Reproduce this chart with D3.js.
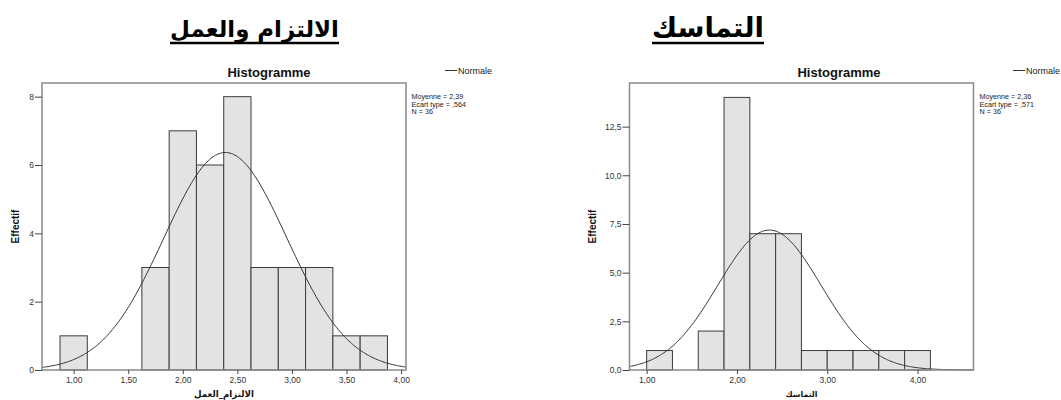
<!DOCTYPE html>
<html>
<head>
<meta charset="utf-8">
<script src="https://cdn.jsdelivr.net/npm/d3@7"></script>
<style>
  html, body { margin: 0; padding: 0; background: #fff; }
  svg { display: block; }
</style>
</head>
<body>
<svg id="chart" width="1061" height="400"></svg>
<script>
// ---------- DATA ----------
// Left histogram: الالتزام والعمل
const leftTitle = "الالتزام والعمل";
const leftXTitle = "الالتزام_العمل";
const leftBinStart = 0.875;
const leftBinWidth = 0.25;
const leftCounts = [1, 0, 0, 3, 7, 6, 8, 3, 3, 3, 1, 1];
const leftMean = 2.39, leftSd = 0.564, leftN = 36;
const leftXTicks = [1.0, 1.5, 2.0, 2.5, 3.0, 3.5, 4.0];
const leftYTicks = [0, 2, 4, 6, 8];

// Right histogram: التماسك
const rightTitle = "التماسك";
const rightXTitle = "التماسك";
const rightBinStart = 1.0;
const rightBinWidth = 2 / 7;
const rightCounts = [1, 0, 2, 14, 7, 7, 1, 1, 1, 1, 1];
const rightMean = 2.36, rightSd = 0.571, rightN = 36;
const rightXTicks = [1, 2, 3, 4];
const rightYTicks = [0, 2.5, 5, 7.5, 10, 12.5];

const chartTitle = "Histogramme";
const yAxisTitle = "Effectif";
const legendLabel = "Normale";

// ---------- HELPERS ----------
const latin = "'Liberation Sans', Arial, sans-serif";
const arabic = "'DejaVu Sans', sans-serif";
const comma = s => s.replace('.', ',');
const fmtX = v => comma(d3.format(".2f")(v));

function fitWidth(sel, target) {
  const w = sel.node().getComputedTextLength();
  const fs = parseFloat(sel.attr("font-size"));
  if (w > 0) sel.attr("font-size", fs * target / w);
  return sel;
}

const svg = d3.select("#chart");
svg.append("rect").attr("width", 1061).attr("height", 400).attr("fill", "#fff");

const panels = [
  {
    frame: { l: 42, r: 406, t: 83, b: 370 },
    xDomain: [0.71, 4.045], yDomain: [0, 8.4],
    binStart: leftBinStart, binWidth: leftBinWidth, counts: leftCounts,
    mean: leftMean, sd: leftSd, n: leftN,
    xTicks: leftXTicks, yTicks: leftYTicks, yFmt: d3.format("d"),
    title: leftTitle, titleCx: 254.5, titleW: 169,
    xTitle: leftXTitle, xTitleW: 60,
    histX: 269, legendX: 445, statsX: 411.5, effX: 19
  },
  {
    frame: { l: 629.5, r: 973.5, t: 83, b: 370 },
    xDomain: [0.81, 4.62], yDomain: [0, 14.74],
    binStart: rightBinStart, binWidth: rightBinWidth, counts: rightCounts,
    mean: rightMean, sd: rightSd, n: rightN,
    xTicks: rightXTicks, yTicks: rightYTicks, yFmt: v => comma(d3.format(".1f")(v)),
    title: rightTitle, titleCx: 708, titleW: 112,
    xTitle: rightXTitle, xTitleW: 32,
    histX: 839, legendX: 1013, statsX: 979.5, effX: 596
  }
];

panels.forEach(p => {
  const f = p.frame;
  const x = d3.scaleLinear().domain(p.xDomain).range([f.l, f.r]);
  const y = d3.scaleLinear().domain(p.yDomain).range([f.b, f.t]);
  const g = svg.append("g");

  // Big Arabic heading with underline
  const tt = g.append("text")
    .attr("x", p.titleCx).attr("y", 37)
    .attr("text-anchor", "middle")
    .attr("font-family", arabic).attr("font-weight", "bold")
    .attr("font-size", 26).attr("fill", "#000")
    .attr("direction", "rtl")
    .text(p.title);
  fitWidth(tt, p.titleW);
  g.append("line")
    .attr("x1", p.titleCx - p.titleW / 2).attr("x2", p.titleCx + p.titleW / 2)
    .attr("y1", 43).attr("y2", 43)
    .attr("stroke", "#000").attr("stroke-width", 2.5);

  // Chart title
  g.append("text")
    .attr("x", p.histX).attr("y", 77)
    .attr("text-anchor", "middle")
    .attr("font-family", latin).attr("font-weight", "bold")
    .attr("font-size", 13).attr("fill", "#111")
    .text(chartTitle);

  // Legend
  g.append("line")
    .attr("x1", p.legendX).attr("x2", p.legendX + 12)
    .attr("y1", 70.5).attr("y2", 70.5)
    .attr("stroke", "#333").attr("stroke-width", 1);
  g.append("text")
    .attr("x", p.legendX + 13).attr("y", 73.5)
    .attr("font-family", latin).attr("font-size", 9).attr("fill", "#222")
    .text(legendLabel);

  // Stats
  const stats = [
    "Moyenne = " + comma(p.mean.toFixed(2)),
    "Ecart type = " + comma(p.sd.toFixed(3)).replace(/^0/, ""),
    "N = " + p.n
  ];
  g.selectAll(".stat").data(stats).enter().append("text")
    .attr("x", p.statsX).attr("y", (d, i) => 99 + i * 7.6)
    .attr("font-family", latin).attr("font-size", 7.2).attr("fill", "#222")
    .text(d => d);

  // Bars
  const bins = p.counts.map((c, i) => ({
    x0: p.binStart + i * p.binWidth,
    x1: p.binStart + (i + 1) * p.binWidth,
    c: c
  })).filter(d => d.c > 0);
  g.selectAll(".bar").data(bins).enter().append("rect")
    .attr("x", d => x(d.x0))
    .attr("width", d => x(d.x1) - x(d.x0))
    .attr("y", d => y(d.c))
    .attr("height", d => y(0) - y(d.c))
    .attr("fill", "#e3e3e3")
    .attr("stroke", "#3c3c3c").attr("stroke-width", 1);

  // Normal curve
  const k = p.n * p.binWidth / (p.sd * Math.sqrt(2 * Math.PI));
  const xs = d3.range(0, 301).map(i => p.xDomain[0] + (p.xDomain[1] - p.xDomain[0]) * i / 300);
  const pts = xs.map(v => [v, k * Math.exp(-0.5 * Math.pow((v - p.mean) / p.sd, 2))]);
  g.append("path")
    .datum(pts)
    .attr("d", d3.line().x(d => x(d[0])).y(d => y(d[1])))
    .attr("fill", "none").attr("stroke", "#333").attr("stroke-width", 1);

  // Frame
  g.append("rect")
    .attr("x", f.l).attr("y", f.t)
    .attr("width", f.r - f.l).attr("height", f.b - f.t)
    .attr("fill", "none").attr("stroke", "#8a8a8a").attr("stroke-width", 1.5);

  // Y axis
  const ya = d3.axisLeft(y).tickValues(p.yTicks).tickFormat(p.yFmt).tickSize(7).tickPadding(1);
  const yg = g.append("g").attr("transform", `translate(${f.l},0)`).call(ya);
  yg.select(".domain").remove();
  yg.selectAll("line").attr("stroke", "#444");
  yg.selectAll("text").attr("font-family", latin).attr("font-size", 8.5).attr("fill", "#333");

  // X axis
  const xa = d3.axisBottom(x).tickValues(p.xTicks).tickFormat(fmtX).tickSize(4).tickPadding(3);
  const xg = g.append("g").attr("transform", `translate(0,${f.b})`).call(xa);
  xg.select(".domain").remove();
  xg.selectAll("line").attr("stroke", "#444");
  xg.selectAll("text").attr("font-family", latin).attr("font-size", 8.5).attr("fill", "#333");

  // Y title
  g.append("text")
    .attr("transform", `translate(${p.effX},${(f.t + f.b) / 2}) rotate(-90)`)
    .attr("text-anchor", "middle")
    .attr("font-family", latin).attr("font-weight", "bold")
    .attr("font-size", 10).attr("fill", "#111")
    .text(yAxisTitle);

  // X title
  const xt = g.append("text")
    .attr("x", (f.l + f.r) / 2).attr("y", 397)
    .attr("text-anchor", "middle")
    .attr("font-family", arabic).attr("font-weight", "bold")
    .attr("font-size", 9).attr("fill", "#111")
    .attr("direction", "rtl")
    .text(p.xTitle);
  fitWidth(xt, p.xTitleW);
});
</script>
</body>
</html>
